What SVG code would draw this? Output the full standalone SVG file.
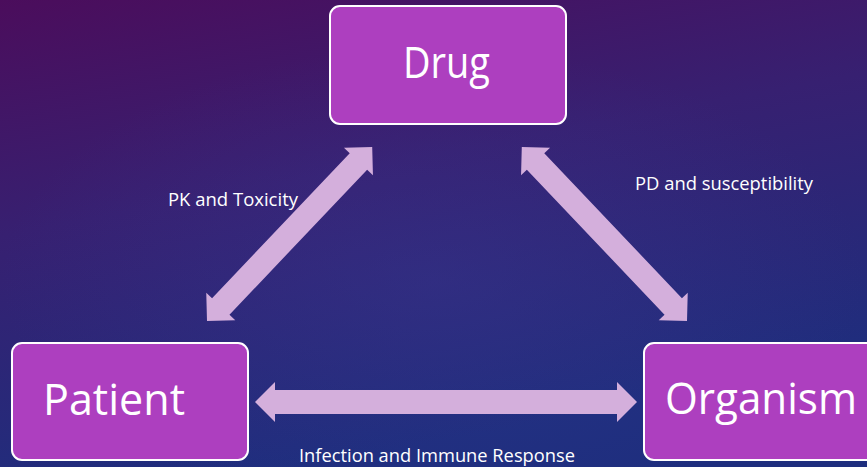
<svg xmlns="http://www.w3.org/2000/svg" width="867" height="467" viewBox="0 0 867 467">
  <defs>
    <linearGradient id="bg" x1="0" y1="0" x2="0.35" y2="1">
      <stop offset="0" stop-color="#4B0D5C"/>
      <stop offset="0.45" stop-color="#372071"/>
      <stop offset="1" stop-color="#1E2E7E"/>
    </linearGradient>
    <radialGradient id="glow" cx="0.5" cy="0.6" r="0.5">
      <stop offset="0" stop-color="#3A3A95" stop-opacity="0.35"/>
      <stop offset="1" stop-color="#3A3A95" stop-opacity="0"/>
    </radialGradient>
  </defs>
  <style>
    .box { fill: #AD3FBF; stroke: #FFFFFF; stroke-width: 2; }
    .big { font-family: "Open Sans", "Liberation Sans", sans-serif; font-size: 43px; fill: #FFFFFF; }
    .lbl { font-family: "Open Sans", "Liberation Sans", sans-serif; font-size: 18px; fill: #FFFFFF; }
    .arrow { fill: #D4AFDC; }
  </style>
  <rect x="0" y="0" width="867" height="467" fill="url(#bg)"/>
  <rect x="0" y="0" width="867" height="467" fill="url(#glow)"/>

  <g id="connectors">
    <path class="arrow" transform="translate(207,321) rotate(-46.5)" d="M0,0 L20,-20 L20,-12 L220,-12 L220,-20 L240,0 L220,20 L220,12 L20,12 L20,20 Z"/>
    <path class="arrow" transform="translate(687,321) rotate(-133.5)" d="M0,0 L20,-20 L20,-12 L220,-12 L220,-20 L240,0 L220,20 L220,12 L20,12 L20,20 Z"/>
    <path class="arrow" transform="translate(255,402)" d="M0,0 L20,-20 L20,-12 L362,-12 L362,-20 L382,0 L362,20 L362,12 L20,12 L20,20 Z"/>
    <text class="lbl" x="168" y="206" textLength="130" lengthAdjust="spacingAndGlyphs">PK and Toxicity</text>
    <text class="lbl" x="635" y="190" textLength="178" lengthAdjust="spacingAndGlyphs">PD and susceptibility</text>
    <text class="lbl" x="299" y="462" textLength="276" lengthAdjust="spacingAndGlyphs">Infection and Immune Response</text>
  </g>

  <g id="drug">
    <rect class="box" x="330" y="6" width="236" height="118" rx="10"/>
    <text class="big" x="403" y="78" textLength="87" lengthAdjust="spacingAndGlyphs">Drug</text>
  </g>
  <g id="patient">
    <rect class="box" x="12" y="343" width="236" height="117" rx="10"/>
    <text class="big" x="43" y="415" textLength="142" lengthAdjust="spacingAndGlyphs">Patient</text>
  </g>
  <g id="organism">
    <rect class="box" x="644" y="343" width="236" height="117" rx="10"/>
    <text class="big" x="665" y="414" textLength="192" lengthAdjust="spacingAndGlyphs">Organism</text>
  </g>
</svg>
